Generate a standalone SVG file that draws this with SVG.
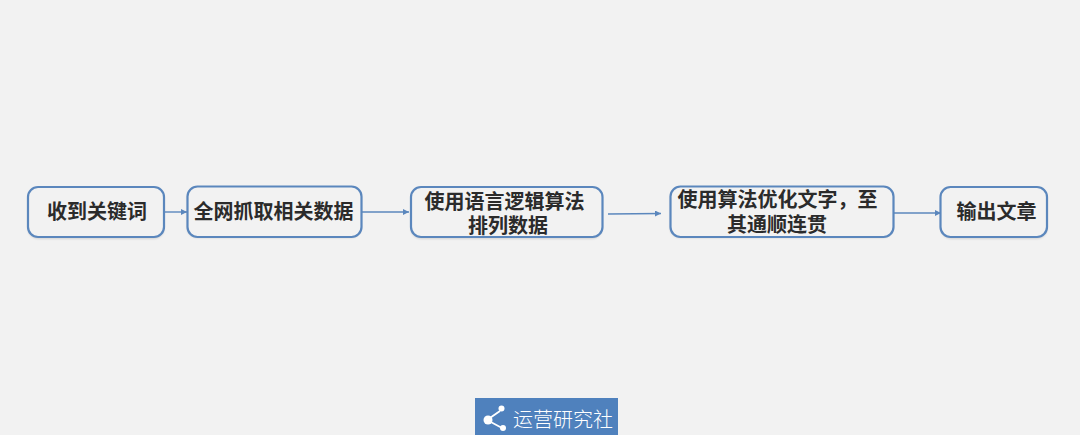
<svg xmlns="http://www.w3.org/2000/svg" width="1080" height="435" viewBox="0 0 1080 435">
<style>
.n{fill:#f2f2f2;stroke:#5b87bd;stroke-width:2.2}
.t{font-family:"Noto Sans CJK SC","Noto Sans",sans-serif;font-size:20px;font-weight:700;fill:#2b2b2b;text-anchor:middle}
.c{stroke:#5b87bd;stroke-width:1.4;fill:none;marker-end:url(#a)}
.s{fill:#000;opacity:.13;filter:url(#b)}
</style>
<defs>
<marker id="a" markerWidth="8" markerHeight="6" refX="6" refY="3" orient="auto" markerUnits="userSpaceOnUse"><path d="M0 0L6 3L0 6Z" fill="#5b87bd"/></marker>
<filter id="b" x="-10%" y="-20%" width="120%" height="140%"><feGaussianBlur stdDeviation="1.2"/></filter>
</defs>
<rect width="1080" height="435" fill="#f2f2f2"/>
<g id="connectors">
<path class="c" d="M164 212L187 212"/>
<path class="c" d="M362 212L409 212"/>
<path class="c" d="M608 214L661 213.500"/>
<path class="c" d="M894 213L941 213"/>
</g>
<g id="n1"><rect class="s" x="28" y="189" width="136" height="50" rx="10"/><rect class="n" x="28" y="187" width="136" height="50" rx="10"/><text class="t" x="97" y="219">收到关键词</text></g>
<g id="n2"><rect class="s" x="187" y="188" width="174" height="50" rx="10"/><rect class="n" x="187.500" y="186.500" width="174" height="50.500" rx="10"/><text class="t" x="273.500" y="219">全网抓取相关数据</text></g>
<g id="n3"><rect class="s" x="411" y="189" width="191" height="50" rx="10"/><rect class="n" x="411" y="187" width="191.500" height="50" rx="10"/><text class="t" x="504.500" y="208.500">使用语言逻辑算法</text><text class="t" x="508" y="232.500">排列数据</text></g>
<g id="n4"><rect class="s" x="670" y="188" width="223" height="50" rx="10"/><rect class="n" x="670.500" y="186.500" width="223" height="50.500" rx="10"/><text class="t" x="777.500" y="207">使用算法优化文字，至</text><text class="t" x="777" y="231.500">其通顺连贯</text></g>
<g id="n5"><rect class="s" x="941" y="189" width="106" height="50" rx="10"/><rect class="n" x="940.500" y="187" width="106.500" height="50" rx="10"/><text class="t" x="996.500" y="219">输出文章</text></g>
<g id="badge">
<rect x="475" y="398" width="143" height="37" fill="#4f81bd"/>
<path d="M500 411L487 420L502 428" fill="none" stroke="#fff" stroke-width="1.8"/>
<circle cx="501.500" cy="408.500" r="3" fill="#fff"/><circle cx="488" cy="420" r="4.500" fill="#fff"/><circle cx="503" cy="428" r="3" fill="#fff"/>
<text x="513" y="427" font-family="'Noto Sans CJK SC',sans-serif" font-size="20" font-weight="300" fill="#fff" textLength="100">运营研究社</text>
</g>
</svg>
